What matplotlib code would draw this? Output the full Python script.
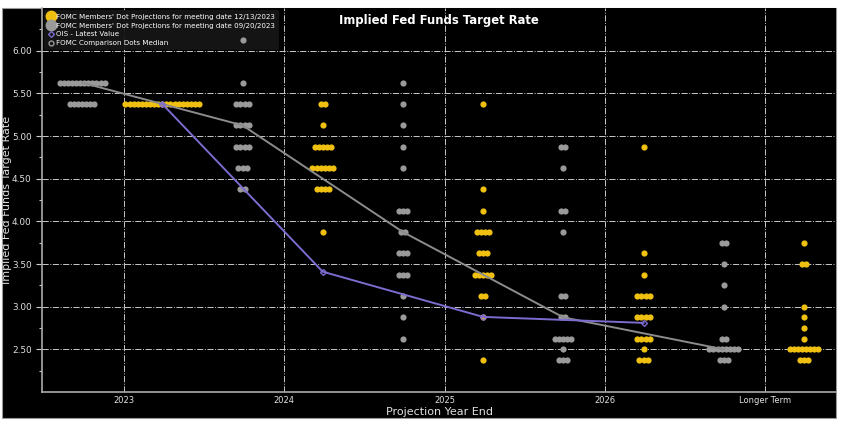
import matplotlib
matplotlib.use('Agg')
import matplotlib.pyplot as plt
from matplotlib.lines import Line2D
from matplotlib.patches import Rectangle
from matplotlib import font_manager

categories = ['2023', '2024', '2025', '2026', 'Longer Term']

# FOMC dots from the 09/20/2023 meeting (gray): levels and dot count per level
sep_rates = [
    [5.625, 5.375],
    [6.125, 5.625, 5.375, 5.125, 4.875, 4.625, 4.375],
    [5.625, 5.375, 5.125, 4.875, 4.625, 4.125, 3.875, 3.625, 3.375, 3.125, 2.875, 2.625],
    [4.875, 4.625, 4.125, 3.875, 3.125, 2.875, 2.625, 2.5, 2.375],
    [3.75, 3.5, 3.25, 3.0, 2.625, 2.5, 2.375],
]
sep_counts = [
    [12, 7],
    [1, 1, 4, 4, 4, 3, 2],
    [1, 1, 1, 1, 1, 3, 2, 3, 3, 1, 1, 1],
    [2, 1, 2, 1, 2, 2, 5, 1, 3],
    [2, 1, 1, 1, 2, 8, 3],
]

# FOMC dots from the 12/13/2023 meeting (yellow)
dec_rates = [
    [5.375],
    [5.375, 5.125, 4.875, 4.625, 4.375, 3.875],
    [5.375, 4.375, 4.125, 3.875, 3.625, 3.375, 3.125, 2.875, 2.375],
    [4.875, 3.625, 3.375, 3.125, 2.875, 2.625, 2.5, 2.375],
    [3.75, 3.5, 3.0, 2.875, 2.75, 2.625, 2.5, 2.375],
]
dec_counts = [
    [19],
    [2, 1, 5, 6, 4, 1],
    [1, 1, 1, 4, 3, 5, 2, 1, 1],
    [1, 1, 1, 4, 4, 4, 1, 3],
    [1, 2, 1, 1, 1, 1, 8, 3],
]

sep_median = [5.625, 5.125, 3.875, 2.875, 2.5]
ois_latest = [5.375, 3.41, 2.88, 2.81]

YELLOW = '#f0c010'
GRAY = '#9a9a9a'
PURPLE = '#7d6bd0'
TXT = '#e0e0e0'

names = {f.name for f in font_manager.fontManager.ttflist}
narrow = 'Liberation Sans Narrow' in names
plt.rcParams['font.family'] = ['Liberation Sans Narrow'] if narrow else ['DejaVu Sans']
k = 1.0 if narrow else 0.8


def dot_xy(base, rates, counts, step=0.0255):
    xs, ys = [], []
    for r, n in zip(rates, counts):
        for j in range(n):
            xs.append(base + (j - (n - 1) / 2) * step)
            ys.append(r)
    return xs, ys


W, H = 841, 423
fig = plt.figure(figsize=(W / 100, H / 100), dpi=100, facecolor='white')
fig.patches.append(Rectangle((2 / W, 5 / H), 834 / W, 410 / H, transform=fig.transFigure,
                             facecolor='black', edgecolor='#999999', lw=0.8, zorder=-10))
ax = fig.add_axes([42 / W, 31 / H, 794 / W, 384 / H])
ax.set_facecolor('black')

sep_off, dec_off = -0.26, 0.24
for i in range(len(categories)):
    xs, ys = dot_xy(i + sep_off, sep_rates[i], sep_counts[i])
    ax.scatter(xs, ys, s=20, color=GRAY, lw=0, zorder=8)
    xs, ys = dot_xy(i + dec_off, dec_rates[i], dec_counts[i])
    ax.scatter(xs, ys, s=20, color=YELLOW, lw=0, zorder=8)

ax.plot([i + sep_off for i in range(len(sep_median))], sep_median, color='#8c8c8c', lw=1.4, zorder=9)
ax.plot([i + dec_off for i in range(len(ois_latest))], ois_latest, color=PURPLE, lw=1.4,
        marker='D', ms=3, mfc='none', mec=PURPLE, zorder=10)

ax.set_xlim(-0.51, 4.44)
ax.set_ylim(2.0, 6.5)
ax.set_xticks(range(len(categories)))
ax.set_xticklabels(categories)
ax.set_yticks([2.5, 3.0, 3.5, 4.0, 4.5, 5.0, 5.5, 6.0])
ax.set_yticks([2.25, 2.75, 3.25, 3.75, 4.25, 4.75, 5.25, 5.75, 6.25], minor=True)
ax.yaxis.set_major_formatter(matplotlib.ticker.FormatStrFormatter('%.2f'))
ax.tick_params(axis='y', colors='#cccccc', labelcolor=TXT, labelsize=8 * k, length=4, width=0.8)
ax.tick_params(axis='y', which='minor', colors='#cccccc', length=2.5, width=0.8)
ax.tick_params(axis='x', colors='#cccccc', labelcolor=TXT, labelsize=7.5 * k, length=0, pad=3)
ax.grid(True, color='#c8c8c8', ls='-.', lw=0.7)
for s in ['top', 'right']:
    ax.spines[s].set_visible(False)
for s in ['left', 'bottom']:
    ax.spines[s].set_color('#aaaaaa')
    ax.spines[s].set_linewidth(1.2)

ax.set_xlabel('Projection Year End', color=TXT, fontsize=10 * k, labelpad=1)
ax.set_ylabel('Implied Fed Funds Target Rate', color=TXT, fontsize=10 * k)
ax.yaxis.set_label_coords(-0.038, 0.5)
ax.text(0.5, 0.968, 'Implied Fed Funds Target Rate', transform=ax.transAxes, ha='center',
        va='center', color='white', fontsize=10.5 * k, fontweight='bold', zorder=11)

handles = [
    Line2D([], [], ls='none', marker='o', ms=7.5, color=YELLOW),
    Line2D([], [], ls='none', marker='o', ms=7.5, color=GRAY),
    Line2D([], [], ls='none', marker='D', ms=3, mfc='none', mec=PURPLE),
    Line2D([], [], ls='none', marker='o', ms=3.5, mfc='none', mec=GRAY),
]
labels = ["FOMC Members' Dot Projections for meeting date 12/13/2023",
          "FOMC Members' Dot Projections for meeting date 09/20/2023",
          'OIS - Latest Value',
          'FOMC Comparison Dots Median']
leg = ax.legend(handles, labels, loc='upper left', bbox_to_anchor=(0.0, 1.0), fontsize=6.4 * k,
                frameon=True, facecolor='#161616', edgecolor='none', framealpha=0.95,
                labelcolor='white', borderaxespad=0.3, borderpad=0.5, labelspacing=0.4,
                handletextpad=0.2, handlelength=1.0)
leg.set_zorder(7)

fig.savefig('out.png', dpi=100, facecolor='white')
